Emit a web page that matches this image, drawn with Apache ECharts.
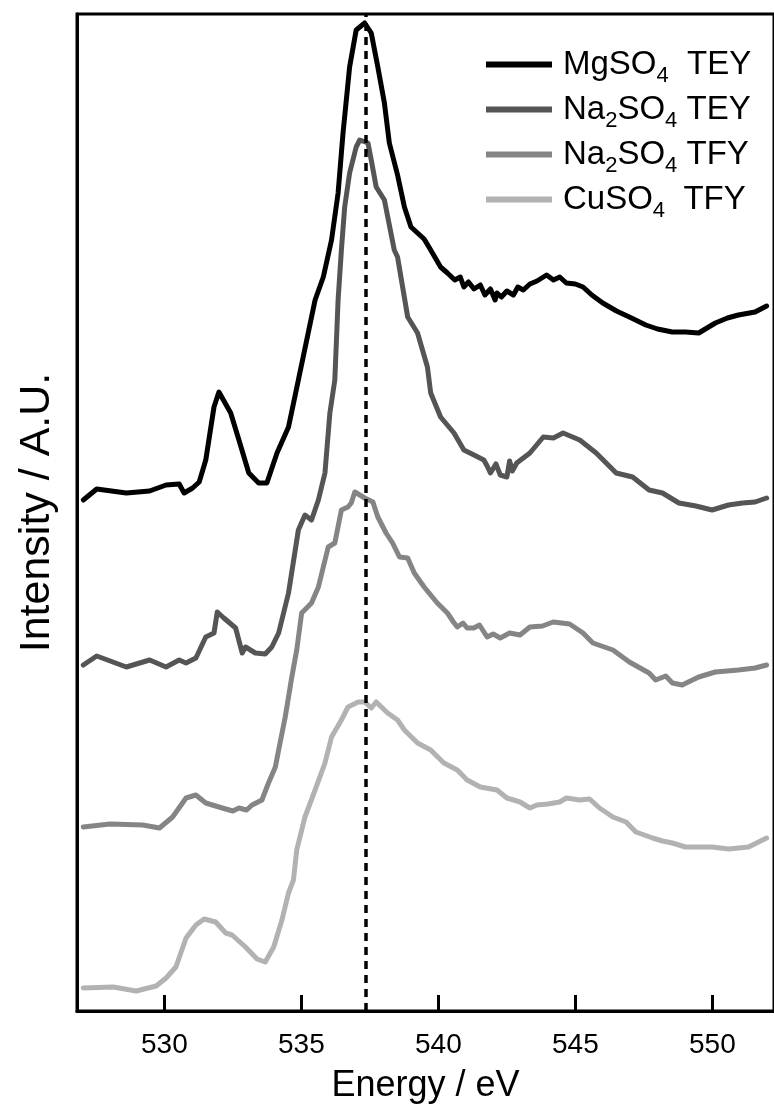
<!DOCTYPE html>
<html>
<head>
<meta charset="utf-8">
<script src="https://cdn.jsdelivr.net/npm/echarts@6/dist/echarts.min.js"></script>
<style>
html,body{margin:0;padding:0;background:#fff;}
#chart{width:774px;height:1116px;}
</style>
</head>
<body>
<div id="chart"></div>
<script>
// ---- data (energy in eV, intensity in arbitrary units, curves offset as in the figure) ----
const seriesNames = ['MgSO4 TEY', 'Na2SO4 TEY', 'Na2SO4 TFY', 'CuSO4 TFY'];
const tickValues = [530, 535, 540, 545, 550];
const dashedAt = 537.34;

const mgso4TEY = [
  [527.04,511],[527.53,522],[528.61,518],[529.46,520],[530.06,526],[530.54,527],[530.72,518],
  [531.03,523],[531.27,529],[531.51,551],[531.81,604],[531.99,619],[532.42,598],[532.72,571],
  [533.08,538],[533.44,528],[533.74,528],[534.11,558],[534.53,584],[534.89,631],[535.50,711],
  [535.80,734],[536.10,771],[536.34,818],[536.52,878],[536.76,944],[537.00,981],[537.31,988],
  [537.55,978],[537.79,944],[538.03,908],[538.21,868],[538.51,836],[538.76,804],[539.00,784],
  [539.24,778],[539.48,772],[539.72,761],[540.08,744],[540.33,738],[540.60,731],[540.80,734],
  [540.93,724],[541.10,729],[541.30,722],[541.53,726],[541.70,716],[541.90,722],[542.07,711],
  [542.14,718],[542.30,714],[542.50,720],[542.74,716],[542.90,724],[543.10,721],[543.34,727],
  [543.60,730],[543.95,736],[544.20,731],[544.43,734],[544.67,728],[545.00,727],[545.28,724],
  [545.60,716],[546.00,708],[546.50,700],[546.97,694],[547.57,686],[548.00,682],[548.54,679],
  [549.02,679],[549.50,678],[550.11,688],[550.55,693],[550.95,696],[551.56,699],[551.98,705]
];
const na2so4TEY = [
  [527.04,346],[527.53,355],[528.61,344],[529.46,351],[530.06,344],[530.54,351],[530.79,348],
  [531.15,353],[531.51,374],[531.81,378],[531.93,399],[532.17,393],[532.60,383],[532.84,358],
  [532.96,364],[533.32,358],[533.68,357],[533.92,364],[534.17,378],[534.53,418],[534.89,481],
  [535.13,496],[535.37,491],[535.62,511],[535.86,538],[536.04,598],[536.22,631],[536.34,711],
  [536.46,761],[536.58,804],[536.76,838],[537.00,864],[537.13,871],[537.43,868],[537.55,851],
  [537.73,824],[538.03,811],[538.39,761],[538.51,754],[538.88,694],[539.24,678],[539.60,644],
  [539.72,618],[540.08,594],[540.57,578],[540.93,561],[541.30,556],[541.66,551],[541.78,545],
  [541.90,538],[542.10,547],[542.26,536],[542.50,534],[542.60,550],[542.70,540],[542.86,548],
  [543.10,553],[543.34,558],[543.83,574],[544.20,573],[544.55,578],[545.16,571],[545.76,558],
  [546.49,538],[547.09,534],[547.69,521],[548.18,518],[548.78,508],[549.40,505],[549.99,501],
  [550.59,506],[551.10,508],[551.56,509],[551.98,513]
];
const na2so4TFY = [
  [527.04,184],[528.01,187],[529.21,186],[529.82,183],[530.30,194],[530.79,213],[531.15,216],
  [531.51,208],[532.11,203],[532.50,200],[532.72,203],[533.00,201],[533.20,206],[533.56,211],
  [533.80,228],[534.05,244],[534.17,261],[534.41,294],[534.65,334],[534.83,361],[535.01,398],
  [535.37,408],[535.62,424],[535.98,464],[536.22,468],[536.46,501],[536.70,504],[536.82,508],
  [536.95,519],[537.13,516],[537.31,513],[537.61,509],[537.79,494],[538.09,478],[538.33,468],
  [538.58,454],[538.88,453],[539.12,438],[539.48,424],[539.96,408],[540.33,398],[540.55,389],
  [540.69,384],[540.90,388],[541.05,383],[541.29,383],[541.50,386],[541.78,374],[542.00,377],
  [542.26,373],[542.60,378],[542.98,376],[543.34,384],[543.80,385],[544.19,389],[544.79,387],
  [545.28,378],[545.64,368],[546.37,361],[546.97,349],[547.69,338],[547.93,331],[548.30,335],
  [548.54,328],[548.90,326],[549.50,334],[550.11,339],[550.95,341],[551.56,343],[551.98,346]
];
const cuso4TFY = [
  [527.04,23],[528.13,24],[528.97,20],[529.70,25],[530.06,33],[530.42,44],[530.79,73],
  [531.15,86],[531.45,92],[531.87,89],[532.24,78],[532.47,76],[532.96,64],[533.38,52],
  [533.68,49],[533.99,64],[534.29,91],[534.53,118],[534.71,131],[534.83,161],[535.13,194],
  [535.50,221],[535.86,248],[536.10,274],[536.46,291],[536.70,304],[537.07,309],[537.31,309],
  [537.55,303],[537.73,309],[538.15,298],[538.51,291],[538.76,281],[539.24,268],[539.72,261],
  [540.20,248],[540.69,241],[541.05,231],[541.53,224],[542.14,221],[542.50,213],[542.98,209],
  [543.34,203],[543.59,206],[544.00,207],[544.43,209],[544.67,213],[545.16,211],[545.52,212],
  [545.88,203],[546.37,194],[546.85,189],[547.21,179],[547.82,173],[548.18,170],[548.54,168],
  [549.02,164],[549.99,164],[550.59,162],[551.32,164],[551.98,173]
];
const seriesData = [mgso4TEY, na2so4TEY, na2so4TFY, cuso4TFY];
const seriesColors = ['#000000', '#555555', '#858585', '#b2b2b2'];

// ---- chart ----
const FONT = '"Liberation Sans", Helvetica, Arial, sans-serif';
const legendLabels = {
  'MgSO4 TEY': 'MgSO{s|4}  TEY',
  'Na2SO4 TEY': 'Na{s|2}SO{s|4} TEY',
  'Na2SO4 TFY': 'Na{s|2}SO{s|4} TFY',
  'CuSO4 TFY': 'CuSO{s|4}  TFY'
};

const chart = echarts.init(document.getElementById('chart'), null, {renderer: 'canvas'});
const series = seriesNames.map((name, i) => ({
  name: name,
  type: 'line',
  data: seriesData[i],
  showSymbol: false,
  symbol: 'none',
  smooth: false,
  lineStyle: {color: seriesColors[i], width: 5, join: 'round', cap: 'round'},
  itemStyle: {color: seriesColors[i]},
  z: 10 - i
}));
series[0].markLine = {
  silent: true,
  symbol: ['none', 'none'],
  label: {show: false},
  lineStyle: {color: '#000', type: [8, 6], width: 3.5},
  data: [{xAxis: dashedAt}],
  z: 20
};

chart.setOption({
  animation: false,
  backgroundColor: '#fff',
  grid: {
    left: 77, right: -5, top: 14, bottom: 105,
    show: true, borderColor: '#000', borderWidth: 3, backgroundColor: 'transparent'
  },
  legend: {
    orient: 'vertical',
    left: 481, top: 37,
    itemWidth: 66, itemHeight: 6, itemGap: 0,
    icon: 'rect',
    data: seriesNames,
    formatter: name => legendLabels[name],
    textStyle: {
      fontFamily: FONT, fontSize: 33, color: '#000', lineHeight: 45,
      padding: [0, 0, 0, 6],
      rich: {
        s: {fontFamily: FONT, fontSize: 22, lineHeight: 22, verticalAlign: 'bottom', color: '#000'}
      }
    }
  },
  xAxis: {
    type: 'value',
    min: 526.81, max: 552.25,
    name: 'Energy / eV',
    nameLocation: 'middle',
    nameGap: 57,
    nameTextStyle: {fontFamily: FONT, fontSize: 36, color: '#000'},
    axisLine: {show: true, lineStyle: {color: '#000', width: 3}},
    axisTick: {show: true, inside: true, length: 16, lineStyle: {color: '#000', width: 3}, customValues: tickValues},
    axisLabel: {fontFamily: FONT, fontSize: 28, color: '#000', margin: 20, customValues: tickValues},
    splitLine: {show: false}
  },
  yAxis: {
    type: 'value',
    min: 0, max: 997,
    name: 'Intensity / A.U.',
    nameLocation: 'middle',
    nameGap: 18,
    nameTextStyle: {fontFamily: FONT, fontSize: 43, color: '#000'},
    axisLine: {show: true, lineStyle: {color: '#000', width: 3}},
    axisTick: {show: false},
    axisLabel: {show: false},
    splitLine: {show: false}
  },
  series: series
});
</script>
</body>
</html>
